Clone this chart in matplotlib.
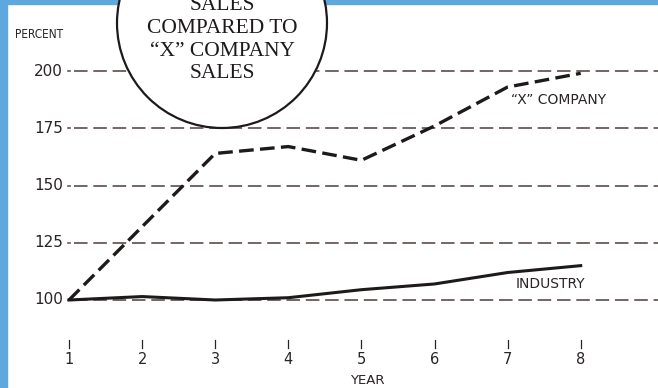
import matplotlib.pyplot as plt
from matplotlib.patches import Ellipse, Rectangle

# sales index, year 1 = 100
years = [1, 2, 3, 4, 5, 6, 7, 8]
company_x = [100, 132, 164, 167, 161, 176, 193, 199]
industry = [100, 101.5, 100, 101, 104.5, 107, 112, 115]
y_ticks = [100, 125, 150, 175, 200]
circle_lines = ["SALES", "COMPARED TO", "\u201cX\u201d COMPANY", "SALES"]

W, H = 658, 388
INK = "#1e1a1a"
TXT = "#2a2424"
GRID = "#6a5858"
BLUE = "#5ea8de"

# pixel layout of the chart area
x0_px, x_step = 69, 73.1
y0_px, y_step = 300, 57.25 / 25


def px_x(p):
    return 1 + (p - x0_px) / x_step


def px_y(p):
    return 100 + (y0_px - p) / y_step


fig = plt.figure(figsize=(W / 100, H / 100), dpi=100)
ax = fig.add_axes([0, 0, 1, 1])
ax.set_xlim(px_x(0), px_x(W))
ax.set_ylim(px_y(H), px_y(0))
ax.axis("off")

# blue page border
ax.add_patch(Rectangle((0, 0), 7 / W, 1, transform=ax.transAxes,
                       color=BLUE, zorder=0))
ax.add_patch(Rectangle((0, 1 - 4 / H), 1, 4 / H, transform=ax.transAxes,
                       color=BLUE, zorder=0))

# dashed reference lines with their labels
for v in y_ticks:
    ax.plot([px_x(68), px_x(70)], [v, v], color=GRID, lw=1.2, zorder=1)
    ax.plot([px_x(74), px_x(W)], [v, v], color=GRID, lw=1.3,
            dashes=(7.5, 3.2), zorder=1)
    ax.text(px_x(63), v, str(v), ha="right", va="center", fontsize=11,
            color=TXT)
ax.text(px_x(15), px_y(35), "PERCENT", ha="left", va="center",
        fontsize=8.5, color=TXT, fontstretch="condensed")

# year ticks under the chart
for yr in years:
    ax.plot([yr, yr], [px_y(340), px_y(348)], color=TXT, lw=0.9)
    ax.text(yr, px_y(359), str(yr), ha="center", va="center",
            fontsize=10.5, color=TXT)
ax.text(px_x(367), px_y(380), "YEAR", ha="center", va="center",
        fontsize=9.5, color=TXT)

# the two series
ax.plot(years, company_x, color=INK, lw=2.4, dashes=(4.4, 1.9), zorder=3)
ax.plot(years, industry, color=INK, lw=2.2, zorder=3)
ax.text(px_x(559), px_y(100), "\u201cX\u201d COMPANY", ha="center",
        va="center", fontsize=10, color=TXT)
ax.text(px_x(550), px_y(284), "INDUSTRY", ha="center", va="center",
        fontsize=10, color=TXT)

# title bubble
cx, cy, r = 222, 23, 105
ax.add_patch(Ellipse((cx / W, 1 - cy / H), 2 * r / W, 2 * r / H,
                     transform=ax.transAxes, facecolor="white",
                     edgecolor=INK, lw=1.6, zorder=5))
for i, line in enumerate(circle_lines):
    ax.text(cx / W, 1 - (6 + 22.5 * i) / H, line, transform=ax.transAxes,
            ha="center", va="center", fontsize=15.5,
            family="Liberation Serif", color=INK, zorder=6)

fig.savefig("out.png", dpi=100)
